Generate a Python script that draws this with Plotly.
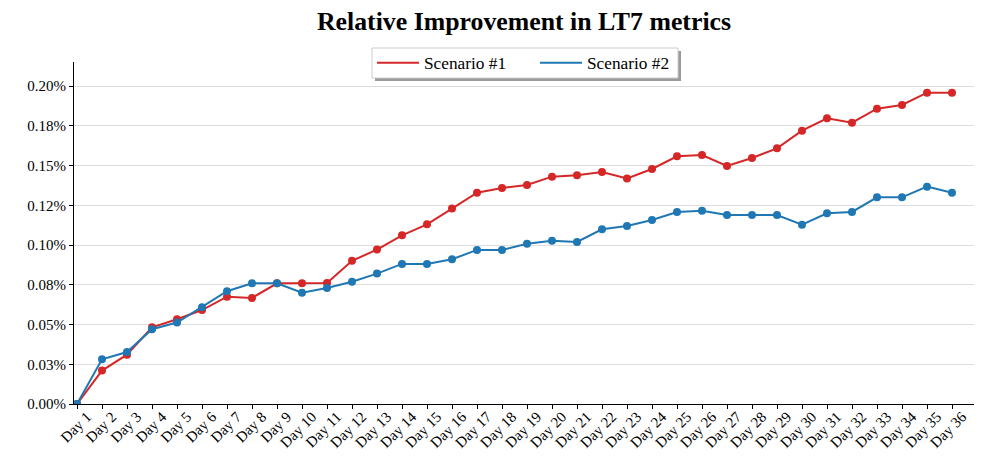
import plotly.graph_objects as go

days = [f"Day {i}" for i in range(1, 37)]

scenario1 = [0.0, 0.0210, 0.0310, 0.0482, 0.0533, 0.0591, 0.0675, 0.0667, 0.0759, 0.0759,
             0.0761, 0.0901, 0.0971, 0.1061, 0.1130, 0.1229, 0.1329, 0.1359, 0.1377, 0.1430,
             0.1438, 0.1459, 0.1419, 0.1478, 0.1558, 0.1566, 0.1497, 0.1547, 0.1608, 0.1719,
             0.1797, 0.1769, 0.1857, 0.1881, 0.1958, 0.1958]

scenario2 = [0.0, 0.0281, 0.0327, 0.0470, 0.0512, 0.0608, 0.0709, 0.0759, 0.0759, 0.0700,
             0.0729, 0.0769, 0.0820, 0.0881, 0.0881, 0.0910, 0.0969, 0.0969, 0.1008, 0.1027,
             0.1019, 0.1099, 0.1119, 0.1157, 0.1208, 0.1216, 0.1189, 0.1189, 0.1189, 0.1128,
             0.1199, 0.1208, 0.1300, 0.1300, 0.1367, 0.1329]

y_tick_vals = [0.0, 0.025, 0.05, 0.075, 0.1, 0.125, 0.15, 0.175, 0.2]
y_tick_text = ["0.00%", "0.03%", "0.05%", "0.08%", "0.10%", "0.12%", "0.15%", "0.18%", "0.20%"]

RED = "#d62728"
BLUE = "#1f77b4"
FONT = "Liberation Serif, Times New Roman, serif"

# plot area in pixels (for converting decorative legend box to paper coords)
L, R, T, B = 74, 974, 62, 404
def px(x):
    return (x - L) / (R - L)
def py(y):
    return (B - y) / (B - T)

fig = go.Figure()
for name, vals, col in [("Scenario #1", scenario1, RED), ("Scenario #2", scenario2, BLUE)]:
    fig.add_trace(go.Scatter(x=days, y=vals, mode="lines+markers", name=name,
                             line=dict(color=col, width=2),
                             marker=dict(color=col, size=8),
                             showlegend=False, hoverinfo="skip"))
    fig.add_trace(go.Scatter(x=[None], y=[None], mode="lines", name=name,
                             line=dict(color=col, width=2)))

# legend shadow + frame
fig.add_shape(type="rect", xref="paper", yref="paper",
              x0=px(375), x1=px(681), y0=py(81), y1=py(51),
              fillcolor="#9a9a9a", line=dict(width=0), layer="above")
fig.add_shape(type="rect", xref="paper", yref="paper",
              x0=px(372), x1=px(678), y0=py(78), y1=py(48),
              fillcolor="white", line=dict(color="#cccccc", width=1), layer="above")

fig.update_layout(
    width=996, height=464,
    margin=dict(l=L, r=996 - R, t=T, b=464 - B, autoexpand=False),
    paper_bgcolor="white", plot_bgcolor="white",
    font=dict(family=FONT, size=15, color="black"),
    title=dict(text="<b>Relative Improvement in LT7 metrics</b>",
               font=dict(family=FONT, size=25.8, color="black"),
               x=0.5, xref="paper", xanchor="center",
               y=1 - 21 / 464, yref="container", yanchor="middle"),
    legend=dict(orientation="h", x=px(372), xanchor="left",
                y=py(63), yanchor="middle",
                bgcolor="rgba(0,0,0,0)", borderwidth=0,
                font=dict(family=FONT, size=17.3),
                itemwidth=42, entrywidth=106, entrywidthmode="pixels"),
    xaxis=dict(type="category", categoryorder="array", categoryarray=days,
               range=[-0.12, 35.88], showgrid=False, zeroline=False,
               showline=True, linecolor="black", linewidth=1.2,
               ticks="outside", ticklen=4, tickcolor="black",
               tickangle=-45, tickfont=dict(family=FONT, size=15),
               ticklabelshift=10, ticklabelstandoff=-7, automargin=False),
    yaxis=dict(range=[0, 0.2151], tickvals=y_tick_vals, ticktext=y_tick_text,
               showgrid=True, gridcolor="#dddddd", gridwidth=1, zeroline=False,
               showline=True, linecolor="black", linewidth=1.2,
               ticks="outside", ticklen=4, tickcolor="black",
               tickfont=dict(family=FONT, size=15), automargin=False),
)

fig.write_html("out.html", config={"displayModeBar": False},
               post_script="document.body.style.margin='0';document.body.style.padding='0';")
